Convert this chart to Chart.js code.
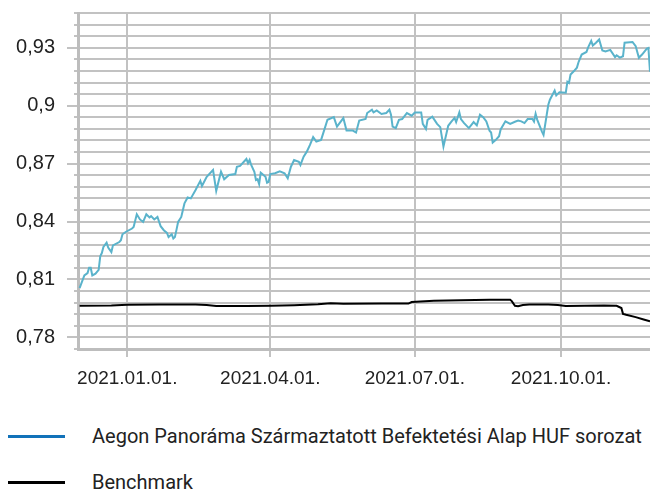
<!DOCTYPE html>
<html>
<head>
<meta charset="utf-8">
<script src="https://cdn.jsdelivr.net/npm/chart.js@4"></script>
<style>
  html, body { margin: 0; padding: 0; background: #fff; }
  #wrap { position: relative; width: 650px; height: 489px; overflow: hidden; font-family: Roboto, sans-serif; color: #222; }
  #box { position: absolute; left: 0; top: 0; width: 650px; height: 400px; }
  .leg { position: absolute; left: 0; height: 24px; line-height: 24px; font-size: 20px; white-space: nowrap; }
  .leg i { position: absolute; left: 8px; top: 11px; width: 57px; height: 3px; }
  .leg span { position: absolute; left: 92px; }
</style>
</head>
<body>
<div id="wrap">
  <div id="box"><canvas id="myChart"></canvas></div>
  <div class="leg" id="leg1" style="top:424px"><i></i><span></span></div>
  <div class="leg" id="leg2" style="top:470px"><i></i><span></span></div>
</div>
<script>
const seriesNames = ['Aegon Panoráma Származtatott Befektetési Alap HUF sorozat', 'Benchmark'];
const legendColors = ['#1272b9', '#000000'];

const fundDates = [
  '2020-12-02','2020-12-05','2020-12-07','2020-12-08','2020-12-09','2020-12-10','2020-12-12','2020-12-14','2020-12-15','2020-12-16',
  '2020-12-17','2020-12-19','2020-12-20','2020-12-22','2020-12-23','2020-12-27','2020-12-28','2020-12-29','2020-12-31','2021-01-04',
  '2021-01-05','2021-01-07','2021-01-09','2021-01-11','2021-01-13','2021-01-15','2021-01-16','2021-01-18','2021-01-20','2021-01-22',
  '2021-01-24','2021-01-26','2021-01-27','2021-01-29','2021-01-30','2021-01-31','2021-02-01','2021-02-02','2021-02-04','2021-02-06',
  '2021-02-08','2021-02-10','2021-02-13','2021-02-16','2021-02-17','2021-02-20','2021-02-24','2021-02-26','2021-03-01','2021-03-03',
  '2021-03-06','2021-03-10','2021-03-11','2021-03-13','2021-03-17','2021-03-18','2021-03-19','2021-03-20','2021-03-22','2021-03-23',
  '2021-03-24','2021-03-25','2021-03-26','2021-03-27','2021-03-29','2021-03-30','2021-03-31','2021-04-01','2021-04-04','2021-04-07',
  '2021-04-10','2021-04-12','2021-04-14','2021-04-16','2021-04-19','2021-04-20','2021-04-22','2021-04-24','2021-04-26','2021-04-28',
  '2021-04-30','2021-05-03','2021-05-05','2021-05-07','2021-05-11','2021-05-13','2021-05-17','2021-05-19','2021-05-23','2021-05-25',
  '2021-05-27','2021-05-31','2021-06-01','2021-06-04','2021-06-05','2021-06-07','2021-06-10','2021-06-13','2021-06-15','2021-06-16',
  '2021-06-17','2021-06-19','2021-06-21','2021-06-23','2021-06-26','2021-06-29','2021-07-01','2021-07-05','2021-07-06','2021-07-08',
  '2021-07-09','2021-07-12','2021-07-15','2021-07-17','2021-07-19','2021-07-22','2021-07-24','2021-07-26','2021-07-27','2021-07-29',
  '2021-07-30','2021-08-01','2021-08-04','2021-08-07','2021-08-09','2021-08-11','2021-08-13','2021-08-15','2021-08-17','2021-08-18',
  '2021-08-19','2021-08-21','2021-08-23','2021-08-24','2021-08-27','2021-08-30','2021-09-02','2021-09-04','2021-09-06','2021-09-08',
  '2021-09-10','2021-09-13','2021-09-14','2021-09-15','2021-09-16','2021-09-19','2021-09-20','2021-09-22','2021-09-23','2021-09-24',
  '2021-09-27','2021-09-28','2021-09-30','2021-10-04','2021-10-05','2021-10-06','2021-10-07','2021-10-09','2021-10-11','2021-10-12',
  '2021-10-14','2021-10-17','2021-10-18','2021-10-20','2021-10-21','2021-10-23','2021-10-25','2021-10-27','2021-10-29','2021-11-01',
  '2021-11-04','2021-11-05','2021-11-07','2021-11-09','2021-11-10','2021-11-15','2021-11-17','2021-11-19','2021-11-21','2021-11-24',
  '2021-11-25','2021-11-26'
];
const fundValues = [
  0.8055,0.8121,0.8133,0.8161,0.8161,0.8121,0.8130,0.8150,0.8220,0.8237,
  0.8268,0.8291,0.8265,0.8242,0.8277,0.8294,0.8303,0.8334,0.8346,0.8364,
  0.8372,0.8438,0.8411,0.8398,0.8438,0.8421,0.8428,0.8411,0.8424,0.8376,
  0.8355,0.8341,0.8320,0.8334,0.8312,0.8320,0.8358,0.8398,0.8424,0.8494,
  0.8525,0.8520,0.8563,0.8611,0.8584,0.8632,0.8667,0.8559,0.8658,0.8619,
  0.8641,0.8646,0.8684,0.8688,0.8724,0.8702,0.8719,0.8693,0.8658,0.8615,
  0.8619,0.8594,0.8653,0.8646,0.8632,0.8601,0.8606,0.8646,0.8650,0.8660,
  0.8650,0.8624,0.8684,0.8719,0.8710,0.8693,0.8736,0.8762,0.8797,0.8837,
  0.8814,0.8823,0.8875,0.8927,0.8941,0.8892,0.8936,0.8871,0.8871,0.8861,
  0.8923,0.8931,0.8962,0.8979,0.8965,0.8975,0.8957,0.8962,0.8979,0.8953,
  0.8892,0.8884,0.8927,0.8931,0.8962,0.8948,0.8965,0.8965,0.8906,0.8879,
  0.8927,0.8943,0.8906,0.8889,0.8788,0.8896,0.8917,0.8937,0.8915,0.8965,
  0.8931,0.8910,0.8884,0.8915,0.8898,0.8953,0.8940,0.8918,0.8870,0.8861,
  0.8809,0.8823,0.8842,0.8877,0.8919,0.8906,0.8917,0.8923,0.8919,0.8910,
  0.8931,0.8931,0.8918,0.8958,0.8928,0.8866,0.8849,0.8953,0.9005,0.9031,
  0.9078,0.9053,0.9070,0.9067,0.9124,0.9118,0.9161,0.9178,0.9197,0.9225,
  0.9265,0.9278,0.9301,0.9336,0.9312,0.9326,0.9343,0.9286,0.9281,0.9289,
  0.9252,0.9261,0.9249,0.9256,0.9326,0.9330,0.9308,0.9248,0.9265,0.9296,
  0.9299,0.9176
];

const benchDates = [
  '2020-12-02','2020-12-22','2021-01-01','2021-01-21','2021-02-13','2021-02-20','2021-02-26','2021-03-17','2021-04-01','2021-04-16',
  '2021-05-01','2021-05-09','2021-05-17','2021-06-10','2021-06-27','2021-06-29','2021-07-13','2021-07-30','2021-08-17','2021-08-30',
  '2021-08-31','2021-09-02','2021-09-04','2021-09-07','2021-09-11','2021-09-23','2021-09-29','2021-10-04','2021-10-28','2021-11-05',
  '2021-11-08','2021-11-09','2021-11-11','2021-11-17','2021-11-22','2021-11-26'
];
const benchValues = [
  0.7964,0.7965,0.7969,0.7970,0.7970,0.7968,0.7963,0.7963,0.7964,0.7967,
  0.7972,0.7977,0.7974,0.7975,0.7975,0.7983,0.7990,0.7993,0.7995,0.7995,
  0.7988,0.7964,0.7962,0.7968,0.7970,0.7971,0.7968,0.7963,0.7965,0.7964,
  0.7952,0.7922,0.7917,0.7905,0.7893,0.7884
];

const xStart = '2020-12-01';
const xEnd = '2021-11-26';
const tickDates = ['2021-01-01', '2021-04-01', '2021-07-01', '2021-10-01'];
const tickLabels = ['2021.01.01.', '2021.04.01.', '2021.07.01.', '2021.10.01.'];

// napok 2021-01-01 óta
function toDay(s) {
  const [y, m, d] = s.split('-').map(Number);
  return (Date.UTC(y, m - 1, d) - Date.UTC(2021, 0, 1)) / 86400000;
}

function isMajor(v) {
  return Math.round(v * 1000) % 30 === 0;
}

const gridColor = '#c2c2c2';

// hosszabb jelölő a feliratozott értékeknél
const majorTicks = {
  id: 'majorTicks',
  afterDraw(chart) {
    const y = chart.scales.y;
    const c = chart.ctx;
    c.save();
    c.strokeStyle = gridColor;
    c.lineWidth = 2;
    y.ticks.forEach(t => {
      if (!isMajor(t.value)) return;
      const py = Math.round(y.getPixelForValue(t.value) - 1) + 1;
      c.beginPath();
      c.moveTo(y.right - 11, py);
      c.lineTo(y.right - 3, py);
      c.stroke();
    });
    c.restore();
  }
};

Chart.defaults.color = '#222';

function chart() {
  const data = {
    datasets: [{
      label: seriesNames[0],
      data: fundDates.map((d, i) => ({ x: toDay(d), y: fundValues[i] })),
      borderColor: '#5ab3cb',
      borderWidth: 2,
      pointRadius: 0,
      tension: 0
    }, {
      label: seriesNames[1],
      data: benchDates.map((d, i) => ({ x: toDay(d), y: benchValues[i] })),
      borderColor: '#000000',
      borderWidth: 2,
      pointRadius: 0,
      tension: 0
    }]
  };

  const config = {
    type: 'line',
    data: data,
    options: {
      responsive: true,
      maintainAspectRatio: false,
      animation: false,
      layout: { padding: { top: 13, right: 0, left: 0, bottom: 0 } },
      plugins: { legend: { display: false }, tooltip: { enabled: false } },
      scales: {
        x: {
          type: 'linear',
          min: toDay(xStart),
          max: toDay(xEnd),
          afterBuildTicks: (scale) => {
            scale.ticks = tickDates.map(d => ({ value: toDay(d) }));
          },
          afterFit: (scale) => {
            scale.height = 51;
            scale.paddingLeft = 0;
            scale.paddingRight = 0;
          },
          ticks: {
            autoSkip: false,
            maxRotation: 0,
            padding: 10,
            font: { size: 19 },
            callback: (value, index) => tickLabels[index]
          },
          grid: { color: gridColor, lineWidth: 2, tickLength: 8 },
          border: { color: '#bdbdbd', width: 3 }
        },
        y: {
          min: 0.774,
          max: 0.948,
          afterFit: (scale) => {
            scale.width = 78;
            scale.paddingTop = 0;
            scale.paddingBottom = 0;
          },
          ticks: {
            stepSize: 0.006,
            autoSkip: false,
            padding: 19,
            font: { size: 20 },
            callback: (v) => isMajor(v) ? String(+v.toFixed(2)).replace('.', ',') : ''
          },
          grid: { color: gridColor, lineWidth: 2, tickLength: 4 },
          border: { color: '#bdbdbd', width: 3 }
        }
      }
    },
    plugins: [majorTicks]
  };
  new Chart(document.getElementById('myChart'), config);
}

function legend() {
  ['leg1', 'leg2'].forEach((id, i) => {
    const el = document.getElementById(id);
    el.querySelector('i').style.background = legendColors[i];
    el.querySelector('span').textContent = seriesNames[i];
  });
}

chart();
legend();
</script>
</body>
</html>
